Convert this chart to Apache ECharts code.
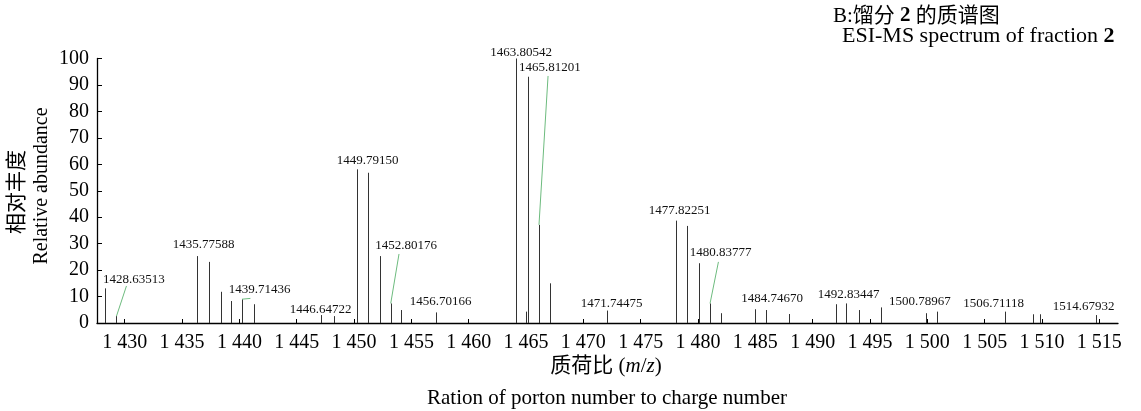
<!DOCTYPE html>
<html>
<head>
<meta charset="utf-8">
<script src="https://cdn.jsdelivr.net/npm/echarts@6/dist/echarts.min.js"></script>
<style>
html, body { margin: 0; padding: 0; background: #fff; }
#main { width: 1141px; height: 411px; }
</style>
</head>
<body>
<div id="main"></div>
<script>
// peaks (m/z as read on the axis, relative abundance %)
const peakMz = [1428.32, 1429.28, 1436.31, 1437.35, 1438.37, 1439.24, 1440.23, 1441.28,
  1447.09, 1448.23, 1450.26, 1451.25, 1452.24, 1453.20, 1454.10, 1457.15,
  1464.16, 1465.03, 1465.15, 1466.13, 1467.13, 1472.04,
  1478.06, 1479.04, 1480.09, 1481.05, 1482.04, 1484.97, 1485.90, 1487.94,
  1492.01, 1492.95, 1494.04, 1495.96, 1499.86, 1500.84, 1506.75, 1509.22, 1509.80, 1514.75];
const peakAbundance = [13.1, 2.6, 25.3, 23.1, 11.8, 8.3, 9.0, 7.1,
  3.0, 2.6, 58.1, 56.8, 25.3, 7.4, 4.9, 4.0,
  100, 4.3, 93.1, 37.1, 15.0, 4.7,
  38.7, 36.7, 22.6, 7.4, 3.7, 5.2, 4.9, 3.4,
  7.1, 7.4, 4.9, 5.9, 3.7, 4.3, 4.3, 3.3, 3.3, 3.0];

// peak annotations
const labelText = ['1428.63513', '1435.77588', '1439.71436', '1446.64722', '1449.79150',
  '1452.80176', '1456.70166', '1463.80542', '1465.81201', '1471.74475', '1477.82251',
  '1480.83777', '1484.74670', '1492.83447', '1500.78967', '1506.71118', '1514.67932'];

const xTicks = [1430, 1435, 1440, 1445, 1450, 1455, 1460, 1465, 1470, 1475,
  1480, 1485, 1490, 1495, 1500, 1505, 1510, 1515];

// where each annotation sits (axis units)
const labelAt = [[1430.79, 16.5], [1436.89, 29.5], [1441.77, 12.5], [1447.09, 5.2], [1451.19, 61.4],
  [1454.55, 29.1], [1457.56, 8.05], [1464.57, 102.4], [1467.07, 96.7], [1472.47, 7.2],
  [1478.40, 42.5], [1481.98, 26.6], [1486.47, 9.3], [1493.14, 10.6], [1499.34, 8.05],
  [1505.79, 7.45], [1513.64, 6.2]];
// green leader lines: label index, start point, target peak index
const leaders = [
  { label: 0, from: [1430.15, 14.0], peak: 1 },
  { label: 2, from: [1440.96, 9.3], peak: 6 },
  { label: 5, from: [1453.92, 26.1], peak: 13 },
  { label: 8, from: [1466.92, 93.4], peak: 19 },
  { label: 11, from: [1481.78, 23.1], peak: 25 }
];

const serif = '"Liberation Serif", "Noto Sans CJK SC", serif';

const chart = echarts.init(document.getElementById('main'));

const option = {
  animation: false,
  grid: { left: 97, top: 58.5, width: 1021, height: 264.5, containLabel: false, outerBoundsMode: 'none' },
  xAxis: {
    type: 'value',
    min: 1427.58,
    max: 1516.63,
    axisLine: { show: true, lineStyle: { color: '#000', width: 1.3 } },
    axisTick: { show: true, inside: true, length: 4, customValues: xTicks, lineStyle: { color: '#000' } },
    axisLabel: {
      customValues: xTicks,
      fontFamily: serif, fontSize: 20, color: '#000', margin: 10,
      formatter: v => String(v).replace(/(\d)(\d{3})$/, '$1 $2')
    },
    splitLine: { show: false }
  },
  yAxis: {
    type: 'value',
    min: 0, max: 100, interval: 10,
    axisLine: { show: true, lineStyle: { color: '#000', width: 1.3 } },
    axisTick: { show: true, inside: true, length: 5, lineStyle: { color: '#000' } },
    axisLabel: { fontFamily: serif, fontSize: 20, color: '#000', margin: 8 },
    splitLine: { show: false }
  },
  series: [
    {
      type: 'custom',
      name: 'peaks',
      data: peakMz.map((m, i) => [m, peakAbundance[i]]),
      clip: false,
      renderItem: (params, api) => {
        const top = api.coord([api.value(0), api.value(1)]);
        const base = api.coord([api.value(0), 0]);
        const x = Math.round(top[0]) + 0.5;
        return {
          type: 'line',
          shape: { x1: x, y1: base[1], x2: x, y2: top[1] },
          style: { stroke: '#333', lineWidth: 1 }
        };
      }
    },
    {
      type: 'custom',
      name: 'labels',
      data: labelAt,
      clip: false,
      silent: true,
      renderItem: (params, api) => {
        const i = params.dataIndex;
        const p = api.coord([api.value(0), api.value(1)]);
        const children = [{
          type: 'text',
          x: p[0], y: p[1],
          style: {
            text: labelText[i],
            fontFamily: serif, fontSize: 13, fill: '#111',
            align: 'center', verticalAlign: 'middle'
          }
        }];
        const ld = leaders.find(l => l.label === i);
        if (ld) {
          const a = api.coord(ld.from);
          const b = api.coord([peakMz[ld.peak], peakAbundance[ld.peak]]);
          children.push({
            type: 'line',
            shape: { x1: a[0], y1: a[1], x2: b[0], y2: b[1] },
            style: { stroke: '#6dbb7e', lineWidth: 1 }
          });
        }
        return { type: 'group', children };
      }
    }
  ],
  graphic: [
    {
      type: 'text', x: 833, y: 16,
      style: {
        text: 'B:馏分 {b|2} 的质谱图',
        fontFamily: serif, fontSize: 21, fill: '#000', verticalAlign: 'middle',
        rich: { b: { fontFamily: serif, fontSize: 21, fontWeight: 'bold', fill: '#000' } }
      }
    },
    {
      type: 'text', x: 842, y: 36,
      style: {
        text: 'ESI-MS spectrum of fraction {b|2}',
        fontFamily: serif, fontSize: 22, fill: '#000', verticalAlign: 'middle',
        rich: { b: { fontFamily: serif, fontSize: 22, fontWeight: 'bold', fill: '#000' } }
      }
    },
    {
      type: 'text', x: 17, y: 192, rotation: Math.PI / 2,
      style: { text: '相对丰度', fontFamily: serif, fontSize: 21, fill: '#000', align: 'center', verticalAlign: 'middle' }
    },
    {
      type: 'text', x: 42, y: 186, rotation: Math.PI / 2,
      style: { text: 'Relative abundance', fontFamily: serif, fontSize: 20, fill: '#000', align: 'center', verticalAlign: 'middle' }
    },
    {
      type: 'text', x: 606, y: 366,
      style: {
        text: '质荷比 ({i|m}/{i|z})',
        fontFamily: serif, fontSize: 21, fill: '#000', align: 'center', verticalAlign: 'middle',
        rich: { i: { fontFamily: serif, fontSize: 21, fontStyle: 'italic', fill: '#000' } }
      }
    },
    {
      type: 'text', x: 607, y: 398,
      style: { text: 'Ration of porton number to charge number', fontFamily: serif, fontSize: 21, fill: '#000', align: 'center', verticalAlign: 'middle' }
    }
  ]
};

chart.setOption(option);
</script>
</body>
</html>
